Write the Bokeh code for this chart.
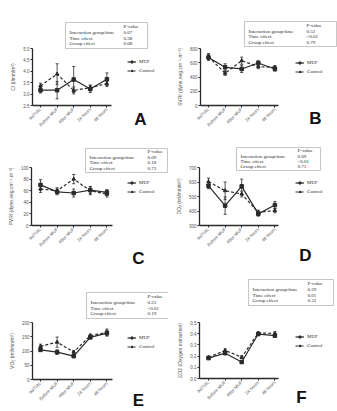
import math
from bokeh.plotting import figure
from bokeh.layouts import column, row
from bokeh.models import (Range1d, FixedTicker, PrintfTickFormatter, Label,
                          BoxAnnotation, Legend, LegendItem, LinearAxis)
from bokeh.embed import file_html
from bokeh.resources import INLINE

# ---------------- data ----------------
times = ["INITIAL", "Before MUF", "After MUF", "24 hours", "48 hours"]
series_names = ["MUF", "Control"]
pv_rows = ["Interaction group/time", "Time effect", "Group effect"]

ci_muf = [3.17, 3.17, 3.64, 3.22, 3.65]
ci_muf_err = [0.12, 0.38, 0.57, 0.15, 0.28]
ci_ctrl = [3.36, 3.88, 3.16, 3.28, 3.46]
ci_ctrl_err = [0.12, 0.45, 0.15, 0.12, 0.12]
ci_p = ["0.07", "0.38", "0.08"]
ci_ticks = [2.5, 3.0, 3.5, 4.0, 4.5, 5.0]

svri_muf = [675, 536, 513, 597, 513]
svri_muf_err = [40, 50, 50, 30, 30]
svri_ctrl = [684, 453, 629, 546, 536]
svri_ctrl_err = [45, 30, 50, 30, 25]
svri_p = ["0.52", "<0.01", "0.79"]
svri_ticks = [0, 200, 400, 600, 800]

pvri_muf = [70, 58, 56, 61, 57]
pvri_muf_err = [9, 5, 7, 6, 5]
pvri_ctrl = [63, 60, 80, 60, 54]
pvri_ctrl_err = [6, 5, 8, 7, 5]
pvri_p = ["0.09", "0.18", "0.73"]
pvri_ticks = [0, 20, 40, 60, 80, 100]

do2_muf = [574, 437, 570, 380, 441]
do2_muf_err = [20, 60, 50, 15, 25]
do2_ctrl = [602, 540, 517, 391, 403]
do2_ctrl_err = [25, 60, 20, 15, 15]
do2_p = ["0.09", "<0.01", "0.71"]
do2_ticks = [300, 400, 500, 600, 700]

vo2_muf = [104, 96, 82, 148, 163]
vo2_muf_err = [6, 8, 5, 6, 10]
vo2_ctrl = [116, 131, 96, 154, 165]
vo2_ctrl_err = [8, 18, 6, 5, 12]
vo2_p = ["0.23", "<0.01", "0.19"]
vo2_ticks = [0, 50, 100, 150, 200]

eo2_muf = [0.182, 0.226, 0.147, 0.397, 0.382]
eo2_muf_err = [0.01, 0.012, 0.01, 0.012, 0.012]
eo2_ctrl = [0.19, 0.25, 0.19, 0.406, 0.403]
eo2_ctrl_err = [0.01, 0.015, 0.012, 0.01, 0.015]
eo2_p = ["0.29", "0.01", "0.32"]
eo2_ticks = [0.0, 0.1, 0.2, 0.3, 0.4, 0.5]

# ---------------- layout / style ----------------
SANS = "Liberation Sans"
SERIF = "Liberation Serif"
INK = "#2a2a2a"
GREY = "#555555"
CAT_FIRST_PX = 40.0
CAT_STEP_PX = 16.6


def panel(letter, ylabel, ticks, fmt, muf, muf_err, ctrl, ctrl_err, pvals,
          W, H, frame, box, valx, leg, letpos):
    L, R, T, B = frame  # axis extents in panel pixels
    ymin, ymax = ticks[0], ticks[-1]
    upp = (ymax - ymin) / (B - T)          # data units per pixel (y)
    y_top = ymax + T * upp
    y_bot = ymin - (H - B) * upp
    x_left = (0 - CAT_FIRST_PX) / CAT_STEP_PX
    x_right = (W - CAT_FIRST_PX) / CAT_STEP_PX
    ax_x0 = (L - CAT_FIRST_PX) / CAT_STEP_PX
    ax_x1 = (R - CAT_FIRST_PX) / CAT_STEP_PX

    p = figure(width=W, height=H, x_range=Range1d(x_left, x_right),
               y_range=Range1d(y_bot, y_top),
               x_axis_location=None, y_axis_location=None,
               output_backend="svg", toolbar_location=None,
               min_border_left=0, min_border_right=0,
               min_border_top=0, min_border_bottom=0)
    p.outline_line_color = None
    p.grid.visible = False
    p.background_fill_color = "white"
    p.border_fill_color = "white"

    xi = list(range(len(times)))
    xaxis = LinearAxis(fixed_location=ymin, bounds=(ax_x0, ax_x1),
                       ticker=FixedTicker(ticks=xi),
                       major_label_overrides={i: t for i, t in zip(xi, times)})
    yaxis = LinearAxis(fixed_location=ax_x0, bounds=(ymin, ymax),
                       ticker=FixedTicker(ticks=ticks),
                       formatter=PrintfTickFormatter(format=fmt),
                       axis_label=ylabel)
    for ax in (xaxis, yaxis):
        ax.axis_line_color = INK
        ax.axis_line_width = 1.3
        ax.major_tick_line_color = INK
        ax.major_tick_in = 0
        ax.major_tick_out = 2
        ax.minor_tick_line_color = None
        ax.major_label_text_font = SANS
        ax.major_label_text_font_size = "4.5px"
        ax.major_label_text_color = GREY
        ax.major_label_standoff = 1
    xaxis.major_label_orientation = math.pi / 4
    yaxis.axis_label_text_font = SANS
    yaxis.axis_label_text_font_size = "5px"
    yaxis.axis_label_text_font_style = "normal"
    yaxis.axis_label_text_color = GREY
    yaxis.axis_label_standoff = 4
    p.add_layout(xaxis, "below")
    p.add_layout(yaxis, "left")

    rends = []
    for vals, errs, dash, marker in ((muf, muf_err, "solid", "square"),
                                     (ctrl, ctrl_err, "3 2", "triangle")):
        up = [v + e for v, e in zip(vals, errs)]
        lo = [v - e for v, e in zip(vals, errs)]
        p.segment(x0=xi, x1=xi, y0=lo, y1=up, line_color=INK, line_width=0.8)
        p.scatter(x=xi + xi, y=up + lo, marker="dash", size=3,
                  line_color=INK, line_width=0.8)
        ln = p.line(x=xi, y=vals, line_color=INK, line_width=1.2, line_dash=dash)
        sc = p.scatter(x=xi, y=vals, marker=marker, size=3.5,
                       fill_color=INK, line_color=INK)
        rends.append([ln, sc])

    def sy(py):
        return H - py

    x0, y0, x1, y1 = box
    p.add_layout(BoxAnnotation(left=x0, right=x1, top=sy(y0), bottom=sy(y1),
                               left_units="screen", right_units="screen",
                               top_units="screen", bottom_units="screen",
                               fill_color=None, fill_alpha=0,
                               line_color="#444444", line_width=1.1))
    h = y1 - y0
    rows_y = [y0 + 0.14 * h, y0 + 0.38 * h, y0 + 0.60 * h, y0 + 0.82 * h]
    p.add_layout(Label(x=valx, y=sy(rows_y[0]), x_units="screen", y_units="screen",
                       text="P-value", text_font=SERIF, text_font_size="5px",
                       text_color=INK, text_baseline="middle", text_align="left"))
    for i, (name, pv) in enumerate(zip(pv_rows, pvals)):
        yy = sy(rows_y[i + 1])
        p.add_layout(Label(x=x0 + 4, y=yy, x_units="screen", y_units="screen",
                           text=name, text_font=SERIF, text_font_size="5px",
                           text_color=INK, text_baseline="middle", text_align="left"))
        p.add_layout(Label(x=valx, y=yy, x_units="screen", y_units="screen",
                           text=pv, text_font=SERIF, text_font_size="5px",
                           text_color=INK, text_baseline="middle", text_align="left"))

    lx, ly = leg
    legend = Legend(items=[LegendItem(label=series_names[0], renderers=rends[0]),
                           LegendItem(label=series_names[1], renderers=rends[1])],
                    location=(lx, sy(ly + 14)), orientation="vertical",
                    label_text_font=SERIF, label_text_font_size="5px",
                    label_text_color=INK,
                    glyph_width=9, glyph_height=5, label_height=5,
                    label_standoff=3, spacing=4, padding=0, margin=0,
                    border_line_color=None, background_fill_alpha=0)
    p.add_layout(legend)

    p.add_layout(Label(x=letpos[0], y=sy(letpos[1]), x_units="screen",
                       y_units="screen", text=letter, text_font=SANS,
                       text_font_size="17px", text_font_style="bold",
                       text_color="#111111", text_align="center",
                       text_baseline="middle"))
    return p


pA = panel("A", "CI (l/min/m²)", ci_ticks, "%.1f", ci_muf, ci_muf_err, ci_ctrl,
           ci_ctrl_err, ci_p, 168, 135, (32, 111, 48, 105), (65, 22, 147, 48), 123,
           (127, 59), (140, 119))
pB = panel("B", "SVRI (dyne.seg.cm⁻⁵.m⁻²)", svri_ticks, "%d", svri_muf, svri_muf_err,
           svri_ctrl, svri_ctrl_err, svri_p, 169, 135, (32, 110, 48, 105),
           (76, 21, 168, 46), 138, (127, 60), (147, 118))
pC = panel("C", "PVRI (dyne.seg.cm⁻⁵.m⁻²)", pvri_ticks, "%d", pvri_muf, pvri_muf_err,
           pvri_ctrl, pvri_ctrl_err, pvri_p, 168, 135, (31, 112, 32, 90),
           (85, 13, 167, 37), 147, (127, 45), (138, 123))
pD = panel("D", "DO₂ (ml/min/m²)", do2_ticks, "%d", do2_muf, do2_muf_err,
           do2_ctrl, do2_ctrl_err, do2_p, 169, 135, (31, 110, 32, 90),
           (68, 12, 152, 35), 129, (127, 45), (137, 120))
pE = panel("E", "VO₂ (ml/min/m²)", vo2_ticks, "%d", vo2_muf, vo2_muf_err,
           vo2_ctrl, vo2_ctrl_err, vo2_p, 168, 141, (32, 112, 52, 109),
           (86, 22, 168, 48), 147, (127, 65), (138, 130))
pF = panel("F", "EO2 (Oxygen extraction)", eo2_ticks, "%.1f", eo2_muf, eo2_muf_err,
           eo2_ctrl, eo2_ctrl_err, eo2_p, 169, 141, (31, 110, 52, 108),
           (80, 9, 165, 35), 139, (127, 64), (133, 127))

layout = column(row(pA, pB), row(pC, pD), row(pE, pF))
open("out.html", "w").write(file_html(layout, INLINE))
